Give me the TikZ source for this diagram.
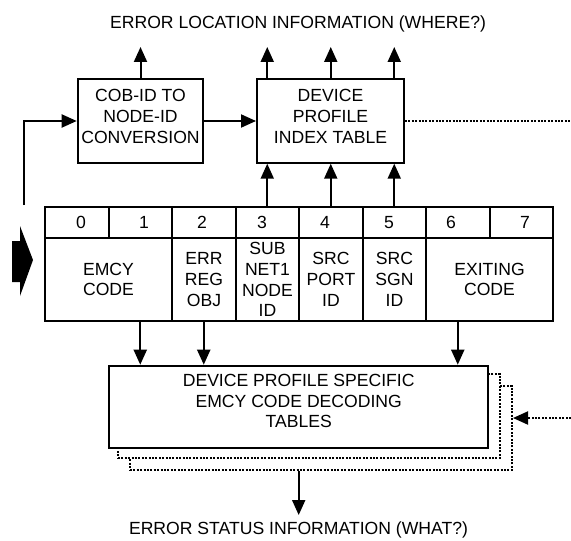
\documentclass[tikz,border=0pt]{standalone}
\usepackage{fontspec}
\setmainfont{Liberation Sans}
\usetikzlibrary{arrows.meta}
\tikzset{
  box/.style={draw, line width=1pt, inner sep=0pt, align=center, fill=white},
  hcell/.style={box, minimum width=31.75pt, minimum height=15.5pt},
  bcell/.style={box, minimum width=31.75pt, minimum height=41.5pt},
  wcell/.style={box, minimum width=63.5pt, minimum height=41.5pt},
  shadowbox/.style={draw, line width=1pt, dash pattern=on 1pt off 0.7pt, fill=white, inner sep=0pt, minimum width=191pt, minimum height=42pt},
  arr/.style={line width=1pt, -{Triangle[length=7.5pt,width=6.5pt]}},
  dots/.style={line width=1pt, dash pattern=on 1pt off 0.7pt},
  lbl/.style={inner sep=0pt, anchor=base}
}
\begin{document}
\begin{tikzpicture}[x=0.5pt,y=-0.5pt,font=\fontsize{8.8}{10.4}\selectfont]
\useasboundingbox (0,0) rectangle (571,540);

% top label
\node[lbl] (where) at (298,28.5) {ERROR LOCATION INFORMATION (WHERE?)};
\coordinate (tip) at (0,47);

% upper boxes
\node[box, minimum width=62.8pt, minimum height=41.7pt, text depth=4.5pt] (cob) at (140.5,121) {COB-ID TO\\NODE-ID\\CONVERSION};
\node[box, minimum width=73.5pt, minimum height=41.7pt, text depth=4.5pt] (dipt) at (330.5,121) {DEVICE\\PROFILE\\INDEX TABLE};

% table header
\foreach \i in {0,...,7}{
  \node[hcell] (h\i) at ({76.75+63.5*\i},222.5) {};
}
\node[inner sep=0pt] (d0) at (81,222.5) {0};
\node[inner sep=0pt] (d1) at (144,222.5) {1};
\node[inner sep=0pt] (d2) at (202,222.5) {2};
\node[inner sep=0pt] (d3) at (262,222.5) {3};
\node[inner sep=0pt] (d4) at (325,222.5) {4};
\node[inner sep=0pt] (d5) at (389,222.5) {5};
\node[inner sep=0pt] (d6) at (451,222.5) {6};
\node[inner sep=0pt] (d7) at (525,222.5) {7};

% table body
\node[wcell] (b01) at (108.5,279.5) {EMCY\\CODE};
\node[bcell] (b2) at (204,279.5) {ERR\\REG\\OBJ};
\node[bcell] (b3) at (267.5,279.5) {SUB\\NET1\\NODE\\ID};
\node[bcell] (b4) at (331,279.5) {SRC\\PORT\\ID};
\node[bcell] (b5) at (394.5,279.5) {SRC\\SGN\\ID};
\node[wcell] (b67) at (489.5,279.5) {EXITING\\CODE};

% left block arrow and feed line
\fill (12,241) -- (20,241) -- (20,226) -- (33,260) -- (20,296) -- (20,282) -- (12,282) -- cycle;
\coordinate (lstart) at (24,205);
\draw[arr] (lstart) |- (cob.west);
\draw[arr] (cob.east) -- (dipt.west);

% top arrows
\draw[arr] (cob.north) -- (cob.north |- tip);
\draw[arr] (h3.north |- dipt.north) -- (h3.north |- tip);
\draw[arr] (h4.north |- dipt.north) -- (h4.north |- tip);
\draw[arr] (h5.north |- dipt.north) -- (h5.north |- tip);

% table to index table
\draw[arr] (h3.north) -- (h3.north |- dipt.south);
\draw[arr] (h4.north) -- (h4.north |- dipt.south);
\draw[arr] (h5.north) -- (h5.north |- dipt.south);

% dotted link out of index table
\coordinate (rtop) at (571,121);
\draw[dots] (dipt.east) -- (rtop);

% decoding tables with stacked shadows
\node[shadowbox] (sh2) at (321,428) {};
\node[shadowbox] (sh1) at (309,416) {};
\node[box, minimum width=189.6pt, minimum height=41.3pt, text depth=6pt] (dec) at (298.7,407) {DEVICE PROFILE SPECIFIC\\EMCY CODE DECODING\\TABLES};

% table to decoding tables
\draw[arr] (h1 |- b01.south) -- (h1 |- dec.north);
\draw[arr] (h2 |- b2.south) -- (h2 |- dec.north);
\draw[arr] (h6 |- b67.south) -- (h6 |- dec.north);

% dotted input from right
\coordinate (rbot) at (571,418);
\draw[dots, -{Triangle[length=7.5pt,width=6.5pt]}] (rbot) -- (rbot -| sh2.east);

% output
\coordinate (whattip) at (298.7,515);
\draw[arr] (dec.south |- sh2.south) -- (whattip);
\node[lbl] (what) at (298.5,534.5) {ERROR STATUS INFORMATION (WHAT?)};
\end{tikzpicture}
\end{document}
